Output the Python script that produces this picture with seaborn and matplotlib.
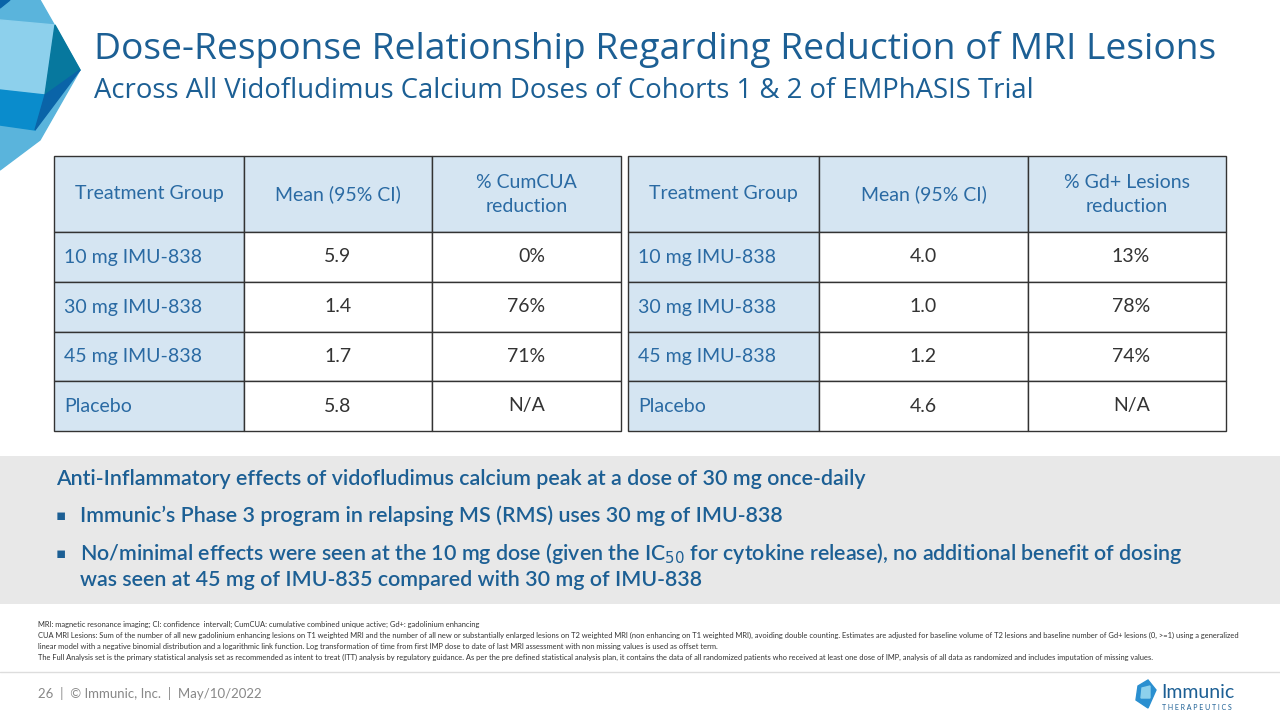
import matplotlib
matplotlib.use("Agg")
import matplotlib.pyplot as plt
import seaborn as sns
from matplotlib.patches import Rectangle, Polygon

sns.set_theme(style="white")
plt.rcParams['font.family'] = ['Lato', 'DejaVu Sans']

groups = ["10 mg IMU-838", "30 mg IMU-838", "45 mg IMU-838", "Placebo"]
cum_mean = ["5.9", "1.4", "1.7", "5.8"]
cum_red = ["0%", "76%", "71%", "N/A"]
gd_mean = ["4.0", "1.0", "1.2", "4.6"]
gd_red = ["13%", "78%", "74%", "N/A"]
left_headers = ["Treatment Group", "Mean (95% CI)", "% CumCUA\nreduction"]
right_headers = ["Treatment Group", "Mean (95% CI)", "% Gd+ Lesions\nreduction"]

BLUE = "#1c5f94"
TXT = "#2a6aa3"
fig = plt.figure(figsize=(12.8, 7.2), dpi=100)
ax = fig.add_axes([0, 0, 1, 1])
ax.set_xlim(0, 1280); ax.set_ylim(720, 0); ax.axis("off")

# decoration
ax.add_patch(Polygon([(0,0),(40,0),(80,70),(40,140),(0,170)], color="#5ab4dc"))
ax.add_patch(Polygon([(0,20),(55,25),(45,95),(0,90)], color="#8dd0ec"))
ax.add_patch(Polygon([(0,90),(45,95),(35,130),(0,125)], color="#0a8ccc"))
ax.add_patch(Polygon([(55,25),(80,70),(45,95)], color="#07789e"))
ax.add_patch(Polygon([(45,95),(80,70),(35,130)], color="#0a64a8"))
ax.add_patch(Polygon([(0,0),(10,0),(0,8)], color="#0a64a8"))

ax.text(94, 50, "Dose-Response Relationship Regarding Reduction of MRI Lesions",
        fontsize=26.8, color=BLUE, family=["Open Sans", "DejaVu Sans"], va="center")
ax.text(94, 91, "Across All Vidofludimus Calcium Doses of Cohorts 1 & 2 of EMPhASIS Trial",
        fontsize=19.8, color=BLUE, family=["Open Sans", "DejaVu Sans"], va="center")

def table(xs, headers, c1, c2):
    ys = [156, 232, 282, 332, 381, 431]
    for r in range(5):
        for c in range(3):
            x0, x1 = xs[c], xs[c+1]; y0, y1 = ys[r], ys[r+1]
            fc = "#d5e5f2" if (r == 0 or c == 0) else "white"
            ax.add_patch(Rectangle((x0, y0), x1-x0, y1-y0, fc=fc, ec="#333333", lw=1))
            if r == 0:
                ax.text((x0+x1)/2, (y0+y1)/2, headers[c], ha="center", va="center",
                        fontsize=14, color=TXT, linespacing=1.5)
            else:
                vals = [groups, c1, c2][c]
                if c == 0:
                    ax.text(x0+10, (y0+y1)/2, vals[r-1], ha="left", va="center", fontsize=14, color=TXT)
                elif c == 1:
                    ax.text((x0+x1)/2, (y0+y1)/2, vals[r-1], ha="center", va="center", fontsize=14, color="#333333")
                else:
                    ax.text(x1-76, (y0+y1)/2, vals[r-1], ha="right", va="center", fontsize=14, color="#333333")

table([54, 244, 432, 621], left_headers, cum_mean, cum_red)
table([628, 819, 1028, 1226], right_headers, gd_mean, gd_red)

ax.add_patch(Rectangle((0, 456), 1280, 148, fc="#e8e8e8", ec="none"))
kw = dict(fontsize=15.4, color=BLUE, va="center", fontweight="semibold")
ax.text(56, 479, "Anti-Inflammatory effects of vidofludimus calcium peak at a dose of 30 mg once-daily", **kw)
ax.text(56, 516, "▪", fontsize=11, color=BLUE, va="center", family="DejaVu Sans")
ax.text(80, 516, "Immunic’s Phase 3 program in relapsing MS (RMS) uses 30 mg of IMU-838", **kw)
ax.text(56, 553, "▪", fontsize=11, color=BLUE, va="center", family="DejaVu Sans")
ax.text(80, 553, r"No/minimal effects were seen at the 10 mg dose (given the IC$_{50}$ for cytokine release), no additional benefit of dosing", **kw)
ax.text(80, 580, "was seen at 45 mg of IMU-835 compared with 30 mg of IMU-838", **kw)

foot = ["MRI: magnetic resonance imaging; CI: confidence  intervall; CumCUA: cumulative combined unique active; Gd+: gadolinium enhancing",
        "CUA MRI Lesions: Sum of the number of all new gadolinium enhancing lesions on T1 weighted MRI and the number of all new or substantially enlarged lesions on T2 weighted MRI (non enhancing on T1 weighted MRI), avoiding double counting. Estimates are adjusted for baseline volume of T2 lesions and baseline number of Gd+ lesions (0, >=1) using a generalized",
        "linear model with a negative binomial distribution and a logarithmic link function. Log transformation of time from first IMP dose to date of last MRI assessment with non missing values is used as offset term.",
        "The Full Analysis set is the primary statistical analysis set as recommended as intent to treat (ITT) analysis by regulatory guidance. As per the pre defined statistical analysis plan, it contains the data of all randomized patients who received at least one dose of IMP, analysis of all data as randomized and includes imputation of missing values."]
for i, t in enumerate(foot):
    ax.text(38, 624 + i*11, t, fontsize=5.45, color="#333333", va="center")

ax.plot([0, 1280], [672, 672], color="#dddddd", lw=1)
ax.text(38, 693, "26  |  © Immunic, Inc.  |  May/10/2022", fontsize=9.5, color="#888888", va="center")
# logo
ax.add_patch(Polygon([(1138,686),(1148,680),(1156,690),(1148,708),(1136,700)], color="#2a8fd0"))
ax.add_patch(Polygon([(1142,688),(1150,686),(1150,698),(1141,698)], color="#8dd0ec"))
ax.text(1161, 692, "Immunic", fontsize=14, color=BLUE, va="center")
ax.text(1162, 707, "T H E R A P E U T I C S", fontsize=5, color=BLUE, va="center")

fig.savefig("out.png", dpi=100)
